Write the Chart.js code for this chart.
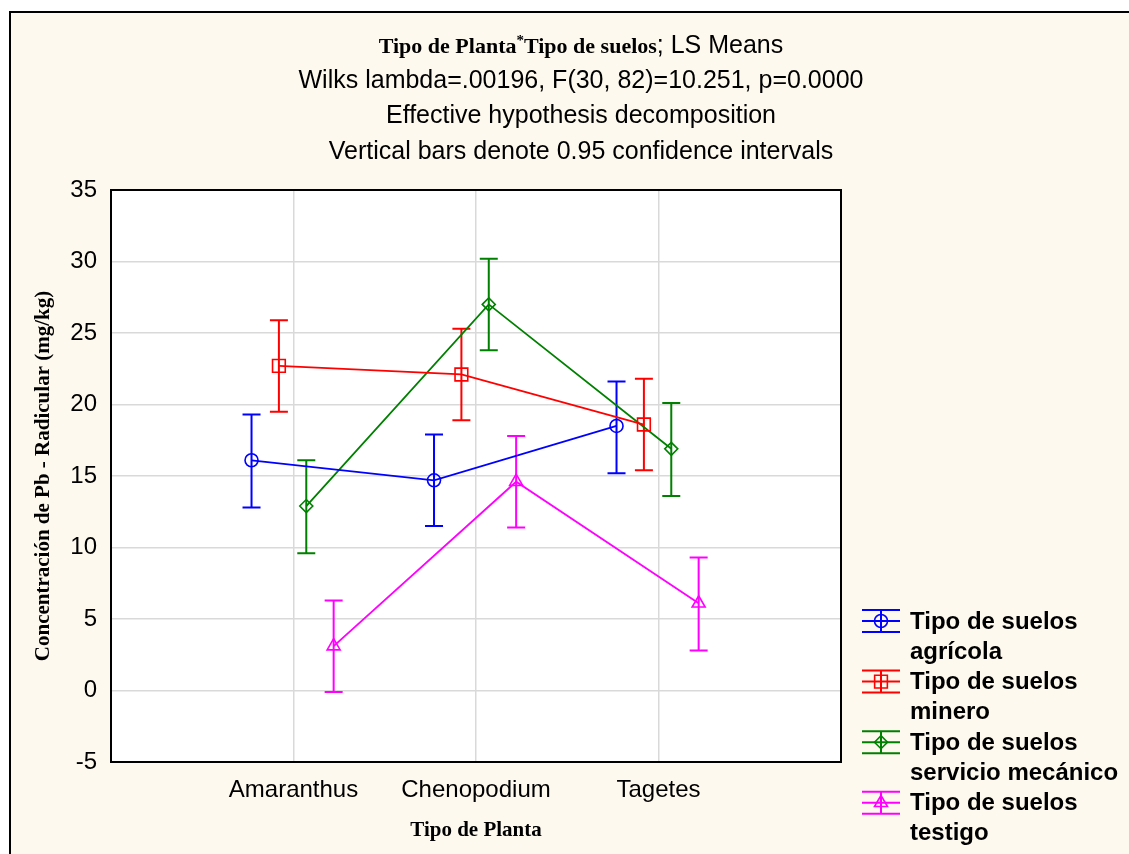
<!DOCTYPE html>
<html>
<head>
<meta charset="utf-8">
<script src="https://cdn.jsdelivr.net/npm/chart.js@4.4.1/dist/chart.umd.min.js"></script>
<style>
  body { margin: 0; background: #ffffff; }
  #wrap { width: 1129px; height: 854px; }
</style>
</head>
<body>
<div id="wrap"><canvas id="chart" width="1129" height="854"></canvas></div>
<script>
"use strict";

// categories on the x axis (placed at 1, 2, 3 on a 0..4 linear scale)
const categories = ["Amaranthus", "Chenopodium", "Tagetes"];

// LS means and 0.95 confidence limits
const agricola     = [16.1, 14.7, 18.5];
const agricolaLow  = [12.8, 11.5, 15.2];
const agricolaHigh = [19.3, 17.9, 21.6];

const minero     = [22.7, 22.1, 18.6];
const mineroLow  = [19.5, 18.9, 15.4];
const mineroHigh = [25.9, 25.3, 21.8];

const servicio     = [12.9, 27.0, 16.9];
const servicioLow  = [9.6, 23.8, 13.6];
const servicioHigh = [16.1, 30.2, 20.1];

const testigo     = [3.1, 14.6, 6.1];
const testigoLow  = [-0.1, 11.4, 2.8];
const testigoHigh = [6.3, 17.8, 9.3];

const yMin = -5, yMax = 35, yStep = 5;

const titleLines = [
  "Wilks lambda=.00196, F(30, 82)=10.251, p=0.0000",
  "Effective hypothesis decomposition",
  "Vertical bars denote 0.95 confidence intervals"
];

const legendLines = [
  ["Tipo de suelos", "agrícola"],
  ["Tipo de suelos", "minero"],
  ["Tipo de suelos", "servicio mecánico"],
  ["Tipo de suelos", "testigo"]
];

const SANS = "'Liberation Sans', Arial, sans-serif";
const SERIF = "'Liberation Serif', 'Times New Roman', serif";
const CREAM = "#fdf9ee";
const GRID = "#d9d9d9";

// one entry per series: values, limits, look, and a small sideways shift
const series = [
  { mean: agricola, low: agricolaLow, high: agricolaHigh, color: "#0000ff", style: "circle",  radius: 6.5, shift: -0.23 },
  { mean: minero,   low: mineroLow,   high: mineroHigh,   color: "#ff0000", style: "rect",    radius: 9,   shift: -0.08 },
  { mean: servicio, low: servicioLow, high: servicioHigh, color: "#008000", style: "rectRot", radius: 6.5, shift: 0.07 },
  { mean: testigo,  low: testigoLow,  high: testigoHigh,  color: "#ff00ff", style: "triangle", radius: 7.5, shift: 0.22 }
];

const datasets = series.map((s, i) => ({
  label: legendLines[i].join(" "),
  data: s.mean.map((v, k) => ({ x: k + 1 + s.shift, y: v })),
  showLine: true,
  borderColor: s.color,
  backgroundColor: "rgba(0,0,0,0)",
  borderWidth: 1.8,
  pointStyle: s.style,
  pointRadius: s.radius,
  pointHoverRadius: s.radius,
  pointBorderColor: s.color,
  pointBackgroundColor: "rgba(0,0,0,0)",
  pointBorderWidth: 1.6
}));

// page frame, cream background and white plot area
const backdrop = {
  id: "backdrop",
  beforeDraw(chart) {
    const ctx = chart.ctx, a = chart.chartArea;
    ctx.save();
    ctx.fillStyle = "#ffffff";
    ctx.fillRect(0, 0, chart.width, chart.height);
    ctx.fillStyle = CREAM;
    ctx.fillRect(11, 13, chart.width - 11, chart.height - 13);
    ctx.strokeStyle = "#000000";
    ctx.lineWidth = 2;
    ctx.beginPath();
    ctx.moveTo(10, chart.height);
    ctx.lineTo(10, 12);
    ctx.lineTo(chart.width, 12);
    ctx.stroke();
    ctx.fillStyle = "#ffffff";
    ctx.fillRect(a.left, a.top, a.right - a.left, a.bottom - a.top);
    ctx.restore();
  }
};

// vertical confidence bars with caps
const errorBars = {
  id: "errorBars",
  beforeDatasetsDraw(chart) {
    const ctx = chart.ctx, xs = chart.scales.x, ys = chart.scales.y;
    ctx.save();
    ctx.lineWidth = 2;
    series.forEach(s => {
      ctx.strokeStyle = s.color;
      s.mean.forEach((v, k) => {
        const px = xs.getPixelForValue(k + 1 + s.shift);
        const top = ys.getPixelForValue(s.high[k]);
        const bot = ys.getPixelForValue(s.low[k]);
        ctx.beginPath();
        ctx.moveTo(px, top); ctx.lineTo(px, bot);
        ctx.moveTo(px - 9, top); ctx.lineTo(px + 9, top);
        ctx.moveTo(px - 9, bot); ctx.lineTo(px + 9, bot);
        ctx.stroke();
      });
    });
    ctx.restore();
  }
};

// titles, axis titles, plot border and the legend
const decorations = {
  id: "decorations",
  afterDraw(chart) {
    const ctx = chart.ctx, a = chart.chartArea;
    ctx.save();
    ctx.strokeStyle = "#000000";
    ctx.lineWidth = 2;
    ctx.strokeRect(a.left, a.top, a.right - a.left, a.bottom - a.top);

    ctx.fillStyle = "#000000";
    ctx.textBaseline = "middle";
    const cx = 581;

    // first title line mixes a bold serif part and a sans part
    const partA = "Tipo de Planta", partB = "Tipo de suelos", partC = "; LS Means";
    const serifFont = "bold 22px " + SERIF, sansFont = "25px " + SANS;
    ctx.font = serifFont;
    const wA = ctx.measureText(partA).width, wB = ctx.measureText(partB).width;
    ctx.font = "bold 15px " + SERIF;
    const wStar = ctx.measureText("*").width;
    ctx.font = sansFont;
    const wC = ctx.measureText(partC).width;
    let x = cx - (wA + wStar + wB + wC) / 2;
    ctx.textAlign = "left";
    ctx.font = serifFont;
    ctx.fillText(partA, x, 47); x += wA;
    ctx.font = "bold 15px " + SERIF;
    ctx.fillText("*", x, 41); x += wStar;
    ctx.font = serifFont;
    ctx.fillText(partB, x, 47); x += wB;
    ctx.font = sansFont;
    ctx.fillText(partC, x, 46);

    ctx.textAlign = "center";
    titleLines.forEach((t, i) => ctx.fillText(t, cx, 81 + i * 35.5));

    // axis titles
    ctx.font = "bold 21px " + SERIF;
    ctx.fillText("Tipo de Planta", (a.left + a.right) / 2, 831);
    ctx.save();
    ctx.translate(44, (a.top + a.bottom) / 2);
    ctx.rotate(-Math.PI / 2);
    ctx.fillText("Concentración de Pb - Radicular (mg/kg)", 0, 0);
    ctx.restore();

    // legend
    const lx0 = 862, lx1 = 900, mid = 881;
    series.forEach((s, i) => {
      const y = 621 + i * 60.6;
      ctx.strokeStyle = s.color;
      ctx.lineWidth = 2;
      ctx.beginPath();
      ctx.moveTo(lx0, y - 11); ctx.lineTo(lx1, y - 11);
      ctx.moveTo(lx0, y); ctx.lineTo(lx1, y);
      ctx.moveTo(lx0, y + 11); ctx.lineTo(lx1, y + 11);
      ctx.moveTo(mid, y - 11); ctx.lineTo(mid, y + 11);
      ctx.stroke();
      ctx.fillStyle = "rgba(0,0,0,0)";
      ctx.lineWidth = 1.6;
      Chart.helpers.drawPoint(ctx, { pointStyle: s.style, radius: s.radius, rotation: 0, borderWidth: 1.6 }, mid, y);
      ctx.fillStyle = "#000000";
      ctx.font = "bold 24px " + SANS;
      ctx.textAlign = "left";
      ctx.fillText(legendLines[i][0], 910, y + 1);
      ctx.fillText(legendLines[i][1], 910, y + 31);
    });
    ctx.restore();
  }
};

new Chart("chart", {
  type: "scatter",
  data: { datasets: datasets },
  plugins: [backdrop, errorBars, decorations],
  options: {
    responsive: false,
    animation: false,
    layout: { padding: { left: 0, right: 288, top: 190, bottom: 0 } },
    plugins: {
      legend: { display: false },
      title: { display: false },
      tooltip: { enabled: false }
    },
    scales: {
      x: {
        type: "linear",
        min: 0,
        max: 4,
        afterFit: scale => { scale.height = 92; },
        ticks: {
          stepSize: 1,
          autoSkip: false,
          maxRotation: 0,
          padding: 14,
          color: "#000000",
          font: { family: SANS, size: 24 },
          callback: v => categories[v - 1] || ""
        },
        grid: {
          color: c => (c.tick && c.tick.value >= 1 && c.tick.value <= 3) ? GRID : "rgba(0,0,0,0)",
          lineWidth: 1.5,
          drawTicks: false
        },
        border: { display: false }
      },
      y: {
        min: yMin,
        max: yMax,
        afterFit: scale => { scale.width = 111; },
        ticks: {
          stepSize: yStep,
          padding: 14,
          color: "#000000",
          font: { family: SANS, size: 24 }
        },
        grid: { color: GRID, lineWidth: 1.5, drawTicks: false },
        border: { display: false }
      }
    }
  }
});
</script>
</body>
</html>
